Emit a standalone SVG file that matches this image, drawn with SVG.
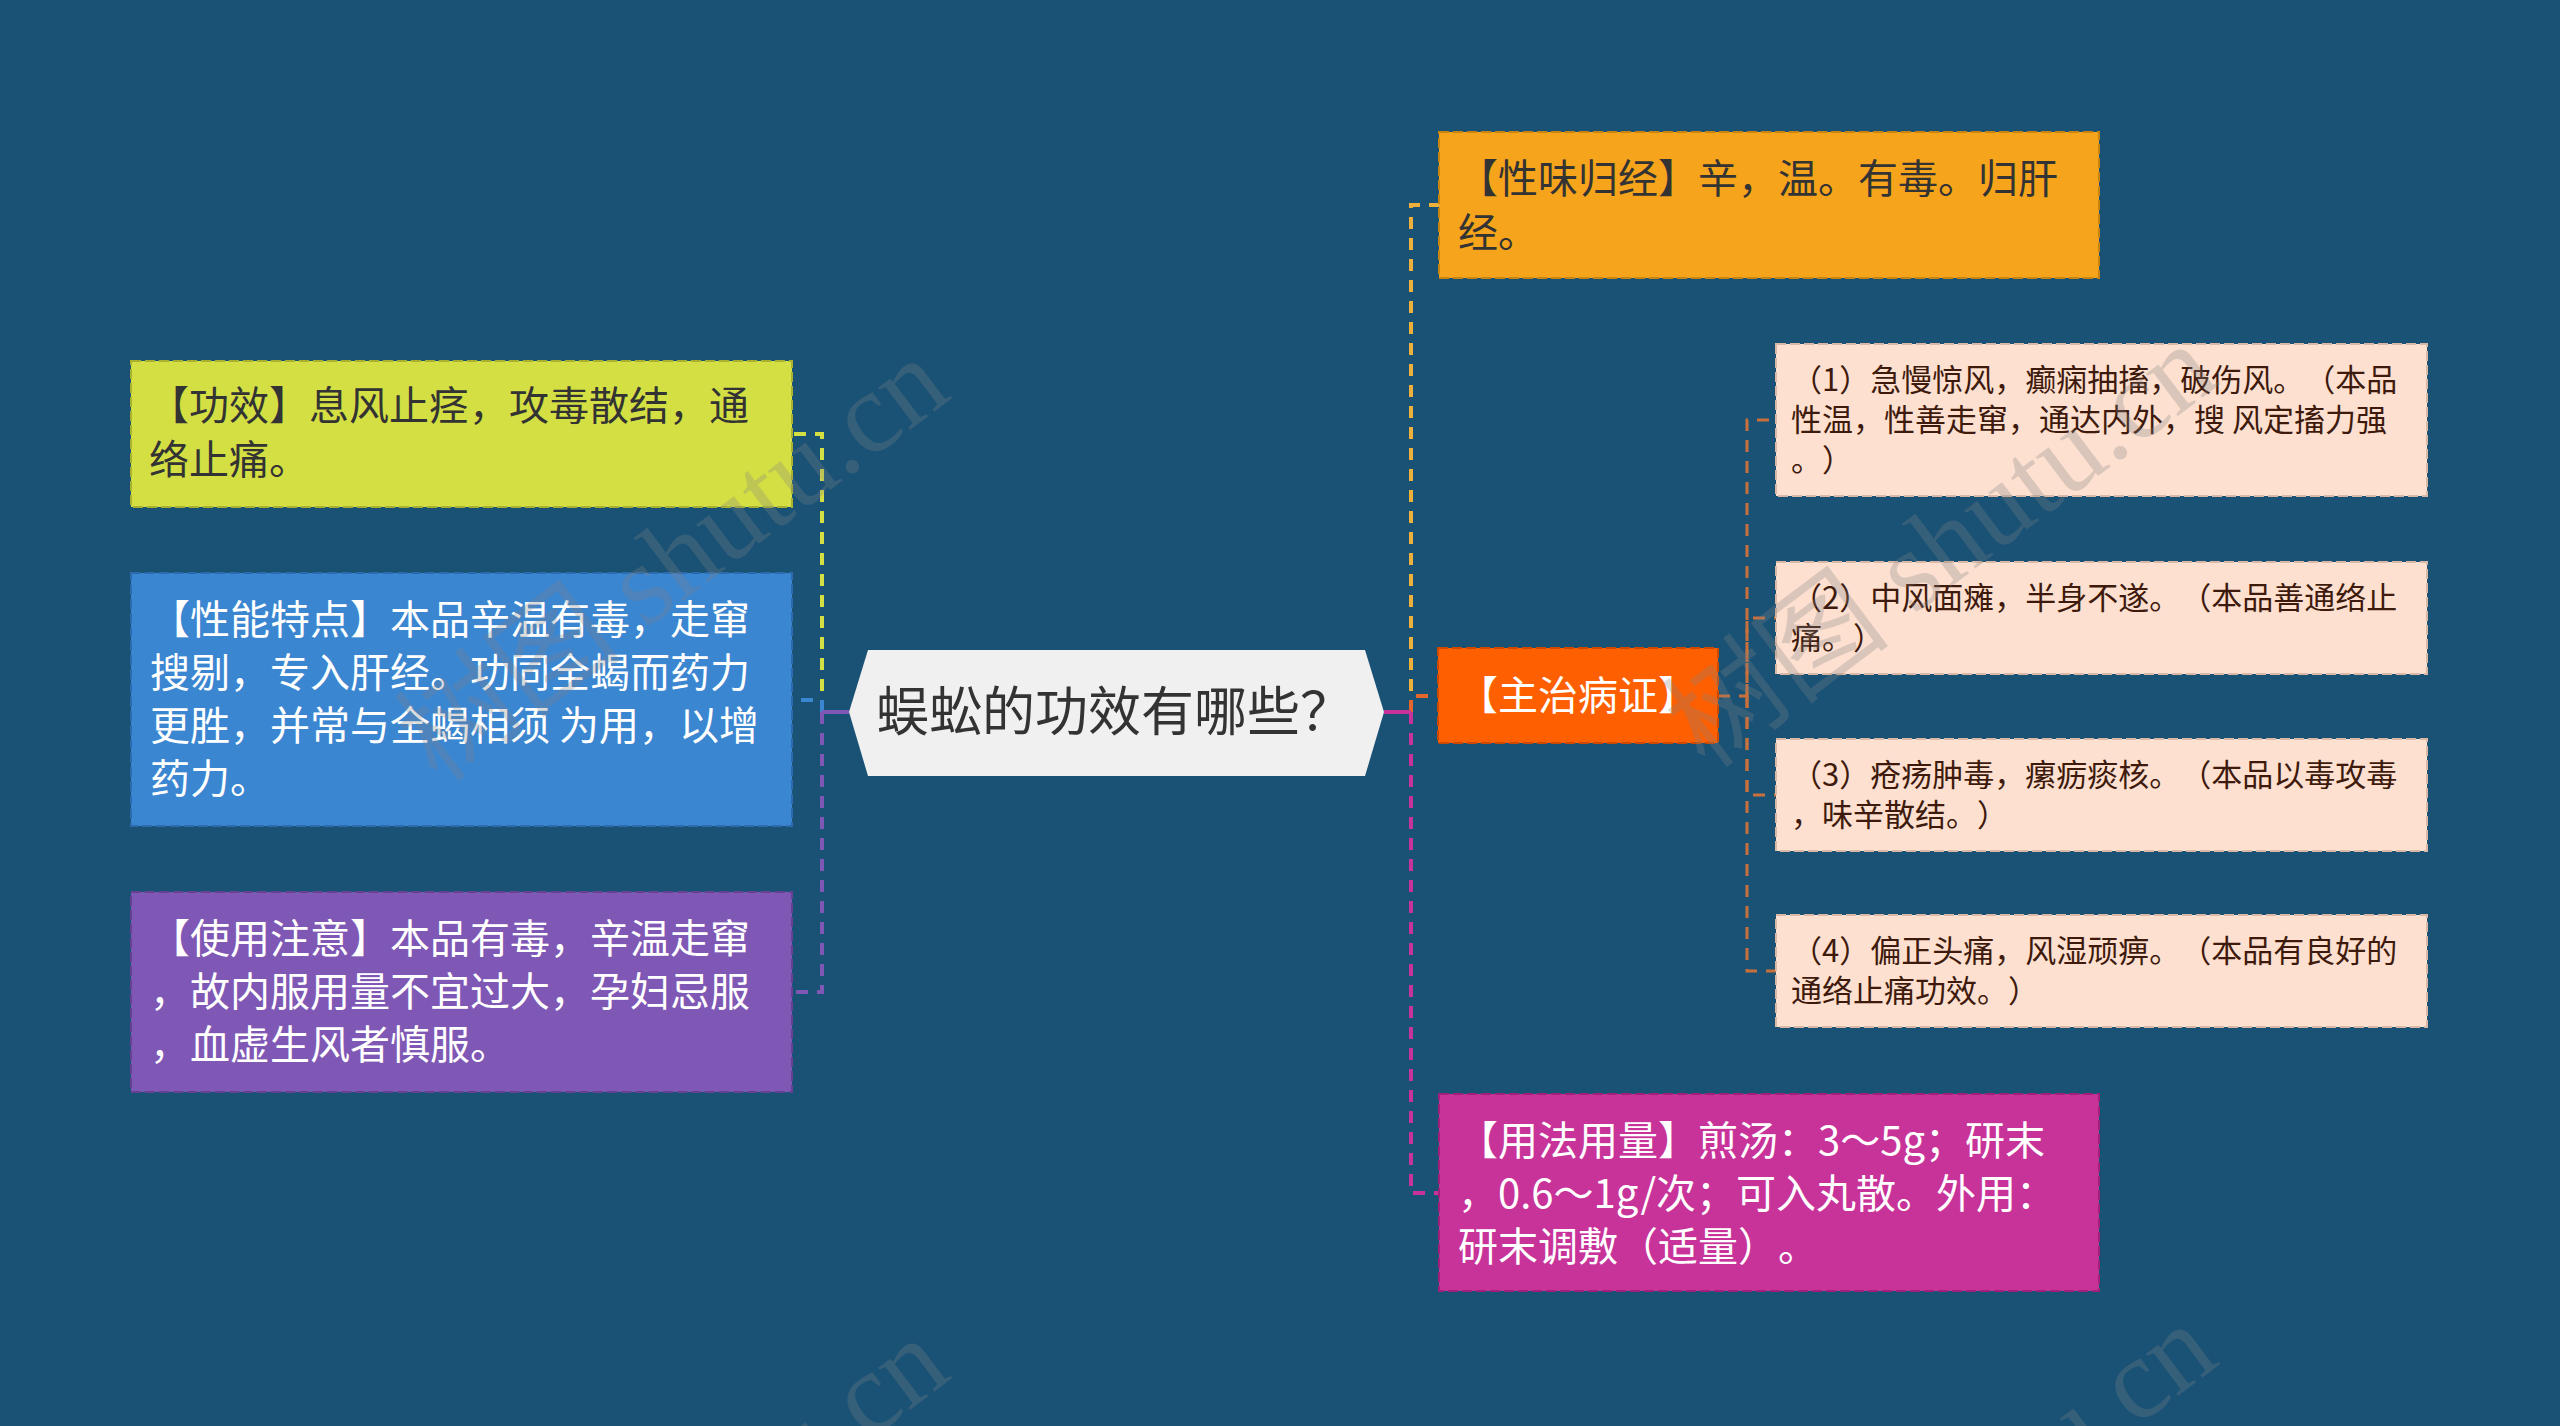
<svg xmlns="http://www.w3.org/2000/svg" width="2560" height="1426" viewBox="0 0 2560 1426">
<defs>
<style>
.t{font-family:"Noto Sans CJK SC","Noto Sans",sans-serif;text-spacing-trim:space-all;}
.big{font-size:40px;}
.sm{font-size:31px;fill:#3e1a0c;}
.dk{fill:#333333;}
.wt{fill:#ffffff;}
.box{stroke-width:2;stroke-dasharray:10 4;}
.c{fill:none;stroke-width:4;stroke-dasharray:12 9;}
.cs{fill:none;stroke-width:3;stroke-dasharray:12 9;}
.wm{font-family:"Liberation Serif","Noto Sans CJK SC",serif;font-size:115px;fill:#808080;fill-opacity:0.28;}
</style>
</defs>
<rect x="0" y="0" width="2560" height="1426" fill="#1a5276"/>

<g id="connectors">
<path class="c" d="M822,712 V434 H792" stroke="#d4df43"/>
<path class="c" d="M822,712 V700 H792" stroke="#3b86d1"/>
<path class="c" d="M822,712 V992 H792" stroke="#7f58b5"/>
<path d="M849,712 H822" stroke="#7f58b5" stroke-width="4" fill="none"/>
<path class="c" d="M1411,712 V205 H1439" stroke="#eeb03c"/>
<path class="c" d="M1411,712 V696 H1438" stroke="#e4662a"/>
<path class="c" d="M1411,712 V1193 H1439" stroke="#c8339a"/>
<path d="M1384,712 H1411" stroke="#c8339a" stroke-width="4" fill="none"/>
<path class="cs" d="M1718,696 H1747 V420 H1776" stroke="#c8703c"/>
<path class="cs" d="M1747,696 V618 H1776" stroke="#c8703c"/>
<path class="cs" d="M1747,696 V795 H1776" stroke="#c8703c"/>
<path class="cs" d="M1747,696 V971 H1776" stroke="#c8703c"/>
</g>

<g id="center">
<polygon points="849,712 868,650 1365,650 1384,712 1365,776 868,776" fill="#f0f0f0"/>
<text class="t dk" x="876" y="731" font-size="53">蜈蚣的功效有哪些？</text>
</g>

<g id="gongxiao">
<rect class="box" x="131" y="361" width="661" height="146" fill="#d4df43" stroke="#a9b230"/>
<text class="t big dk"><tspan x="149" y="420">【功效】息风止痉，攻毒散结，通</tspan><tspan x="149" y="474">络止痛。</tspan></text>
</g>

<g id="xingneng">
<rect class="box" x="131" y="573" width="661" height="253" fill="#3b86d1" stroke="#2c6cae"/>
<text class="t big wt"><tspan x="150" y="634">【性能特点】本品辛温有毒，走窜</tspan><tspan x="150" y="687">搜剔，专入肝经。功同全蝎而药力</tspan><tspan x="150" y="740">更胜，并常与全蝎相须 为用，以增</tspan><tspan x="150" y="793">药力。</tspan></text>
</g>

<g id="shiyong">
<rect class="box" x="131" y="892" width="661" height="200" fill="#7f58b5" stroke="#654196"/>
<text class="t big wt"><tspan x="150" y="953">【使用注意】本品有毒，辛温走窜</tspan><tspan x="150" y="1006">，故内服用量不宜过大，孕妇忌服</tspan><tspan x="150" y="1059">，血虚生风者慎服。</tspan></text>
</g>

<g id="xingwei">
<rect class="box" x="1439" y="132" width="660" height="146" fill="#f6a41c" stroke="#c98410"/>
<text class="t big dk"><tspan x="1458" y="193">【性味归经】辛，温。有毒。归肝</tspan><tspan x="1458" y="247">经。</tspan></text>
</g>

<g id="zhuzhi">
<rect class="box" x="1438" y="648" width="280" height="95" fill="#fe5f00" stroke="#cc4a00"/>
<text class="t big wt" x="1578" y="710" text-anchor="middle">【主治病证】</text>
</g>

<g id="item1">
<rect class="box" x="1776" y="344" width="651" height="152" fill="#fde0d0" stroke="#d9b8a6"/>
<text class="t sm"><tspan x="1791" y="391">（1）急慢惊风，癫痫抽搐，破伤风。（本品</tspan><tspan x="1791" y="431">性温，性善走窜，通达内外，搜 风定搐力强</tspan><tspan x="1791" y="471">。）</tspan></text>
</g>

<g id="item2">
<rect class="box" x="1776" y="562" width="651" height="112" fill="#fde0d0" stroke="#d9b8a6"/>
<text class="t sm"><tspan x="1791" y="609">（2）中风面瘫，半身不遂。（本品善通络止</tspan><tspan x="1791" y="649">痛。）</tspan></text>
</g>

<g id="item3">
<rect class="box" x="1776" y="739" width="651" height="112" fill="#fde0d0" stroke="#d9b8a6"/>
<text class="t sm"><tspan x="1791" y="786">（3）疮疡肿毒，瘰疬痰核。（本品以毒攻毒</tspan><tspan x="1791" y="826">，味辛散结。）</tspan></text>
</g>

<g id="item4">
<rect class="box" x="1776" y="915" width="651" height="112" fill="#fde0d0" stroke="#d9b8a6"/>
<text class="t sm"><tspan x="1791" y="962">（4）偏正头痛，风湿顽痹。（本品有良好的</tspan><tspan x="1791" y="1002">通络止痛功效。）</tspan></text>
</g>

<g id="yongfa">
<rect class="box" x="1439" y="1094" width="660" height="197" fill="#c8339a" stroke="#a0207a"/>
<text class="t big wt"><tspan x="1458" y="1155">【用法用量】煎汤：3～5g；研末</tspan><tspan x="1458" y="1208">，0.6～1g/次；可入丸散。外用：</tspan><tspan x="1458" y="1261">研末调敷（适量）。</tspan></text>
</g>

<g id="watermark">
<text class="wm" transform="translate(672,559) rotate(-37)" x="0" y="40" text-anchor="middle">树图 shutu.cn</text>
<text class="wm" transform="translate(1940,545) rotate(-37)" x="0" y="40" text-anchor="middle">树图 shutu.cn</text>
<text class="wm" transform="translate(672,1539) rotate(-37)" x="0" y="40" text-anchor="middle">树图 shutu.cn</text>
<text class="wm" transform="translate(1940,1525) rotate(-37)" x="0" y="40" text-anchor="middle">树图 shutu.cn</text>
</g>
</svg>
